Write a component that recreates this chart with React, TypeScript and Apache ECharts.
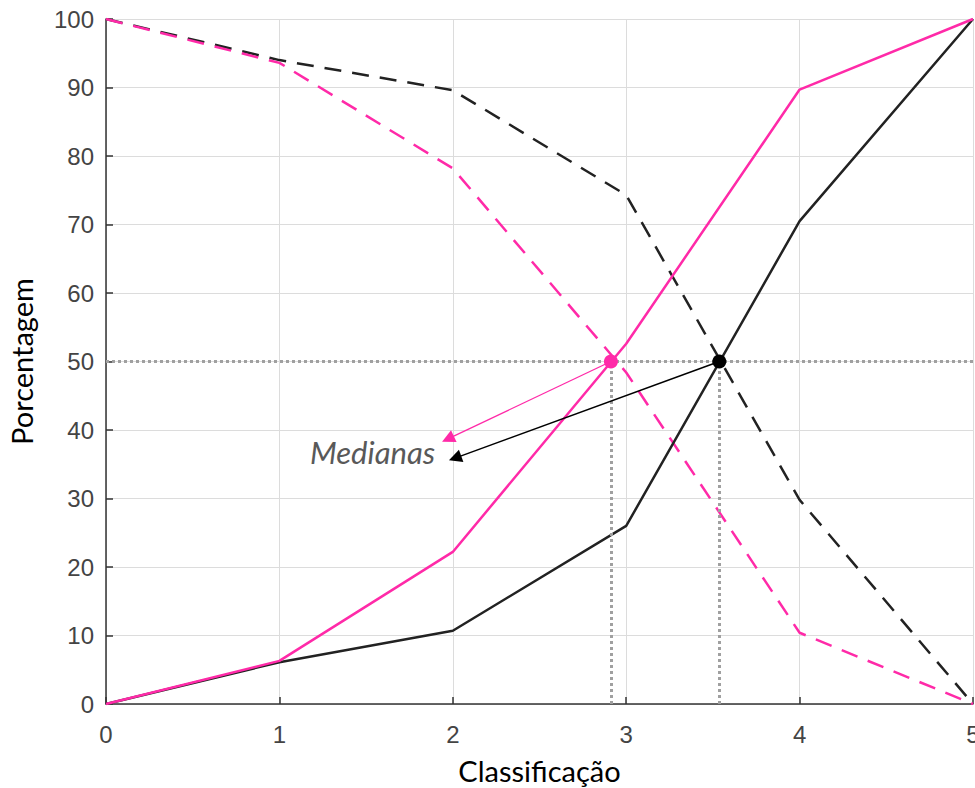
import React, { useEffect, useRef } from "react";
import * as echarts from "echarts";

const xValues = [0, 1, 2, 3, 4, 5];
const pinkAccum = [0, 6.3, 22.2, 52.6, 89.7, 100];
const blackAccum = [0, 6.1, 10.7, 26, 70.5, 100];
const pinkRemain = [100, 93.6, 78.2, 48.4, 10.4, 0];
const blackRemain = [100, 94, 89.6, 74.3, 29.8, 0];
const medianPink = 2.912;
const medianBlack = 3.537;
const medianLevel = 50;
const arrowTipPink = [1.972, 38.7];
const arrowTipBlack = [2.013, 35.9];
const xTicks = [0, 1, 2, 3, 4, 5];
const yTicks = [0, 10, 20, 30, 40, 50, 60, 70, 80, 90, 100];

const PINK = "#ff2aa8";
const BLACK = "#222222";

const pts = (ys: number[]) => xValues.map((x, i) => [x, ys[i]]);

export default function App() {
  const ref = useRef<HTMLDivElement>(null);
  useEffect(() => {
    if (!ref.current) return;
    const chart = echarts.init(ref.current, undefined, { renderer: "svg" });
    const axisLabelStyle = {
      color: "#444444",
      fontSize: 24,
      fontFamily: "Liberation Sans, Arial, sans-serif",
    };
    chart.setOption({
      animation: false,
      grid: { left: 106, right: 2, top: 19, bottom: 84, containLabel: false, outerBoundsMode: "none" },
      xAxis: {
        type: "value",
        min: xTicks[0],
        max: xTicks[xTicks.length - 1],
        interval: 1,
        name: "Classificação",
        nameLocation: "middle",
        nameGap: 52,
        nameTextStyle: { color: "#000", fontSize: 29, fontFamily: "Lato, sans-serif" },
        axisLine: { show: true, onZero: false, lineStyle: { color: "#333", width: 1.5 } },
        axisTick: { show: true, inside: true, length: 7, lineStyle: { color: "#333", width: 1.5 } },
        axisLabel: { ...axisLabelStyle, margin: 18 },
        splitLine: { show: true, lineStyle: { color: "#dcdcdc", width: 1 } },
      },
      yAxis: {
        type: "value",
        min: yTicks[0],
        max: yTicks[yTicks.length - 1],
        interval: 10,
        name: "Porcentagem",
        nameLocation: "middle",
        nameGap: 70,
        nameTextStyle: { color: "#000", fontSize: 29, fontFamily: "Lato, sans-serif" },
        axisLine: { show: true, lineStyle: { color: "#333", width: 1.5 } },
        axisTick: { show: true, inside: true, length: 7, lineStyle: { color: "#333", width: 1.5 } },
        axisLabel: { ...axisLabelStyle, margin: 12 },
        splitLine: { show: true, lineStyle: { color: "#dcdcdc", width: 1 } },
      },
      series: [
        {
          type: "line",
          data: [],
          silent: true,
          markLine: {
            silent: true,
            symbol: ["none", "none"],
            label: { show: false },
            lineStyle: { color: "#a0a0a0", width: 3, type: [3, 3] },
            data: [
              [{ coord: [0, medianLevel] }, { coord: [5, medianLevel] }],
              [{ coord: [medianPink, 0] }, { coord: [medianPink, medianLevel] }],
              [{ coord: [medianBlack, 0] }, { coord: [medianBlack, medianLevel] }],
            ],
          },
        },
        {
          type: "line",
          data: pts(blackRemain),
          showSymbol: false,
          lineStyle: { color: BLACK, width: 2.5, type: [17, 11] },
          silent: true,
        },
        {
          type: "line",
          data: pts(pinkRemain),
          showSymbol: false,
          lineStyle: { color: PINK, width: 2.5, type: [17, 11] },
          silent: true,
        },
        {
          type: "line",
          data: pts(blackAccum),
          showSymbol: false,
          lineStyle: { color: BLACK, width: 2.5 },
          silent: true,
        },
        {
          type: "line",
          data: pts(pinkAccum),
          showSymbol: false,
          lineStyle: { color: PINK, width: 2.5 },
          silent: true,
        },
        {
          type: "line",
          data: [],
          silent: true,
          markLine: {
            silent: true,
            symbol: ["none", "triangle"],
            symbolSize: 13,
            label: { show: false },
            data: [
              [
                { coord: [medianPink, medianLevel], lineStyle: { color: PINK, width: 1.3, type: "solid" }, itemStyle: { color: PINK } },
                { coord: arrowTipPink, lineStyle: { color: PINK, width: 1.3, type: "solid" }, itemStyle: { color: PINK } },
              ],
              [
                { coord: [medianBlack, medianLevel], lineStyle: { color: "#000", width: 1.5, type: "solid" }, itemStyle: { color: "#000" } },
                { coord: arrowTipBlack, lineStyle: { color: "#000", width: 1.5, type: "solid" }, itemStyle: { color: "#000" } },
              ],
            ],
          },
        },
        {
          type: "scatter",
          silent: true,
          symbolSize: 14,
          z: 10,
          itemStyle: { opacity: 1 },
          data: [
            { value: [medianPink, medianLevel], itemStyle: { color: PINK, opacity: 1 } },
            { value: [medianBlack, medianLevel], itemStyle: { color: "#000", opacity: 1 } },
          ],
        },
      ],
      graphic: [
        {
          type: "text",
          left: 310,
          top: 436,
          style: {
            text: "Medianas",
            fill: "#595959",
            fontSize: 31,
            fontStyle: "italic",
            fontFamily: "Lato, sans-serif",
          },
        },
      ],
    });
    return () => chart.dispose();
  }, []);
  return (
    <div
      ref={ref}
      style={{ position: "absolute", left: 0, top: 0, width: 975, height: 788 }}
    />
  );
}
